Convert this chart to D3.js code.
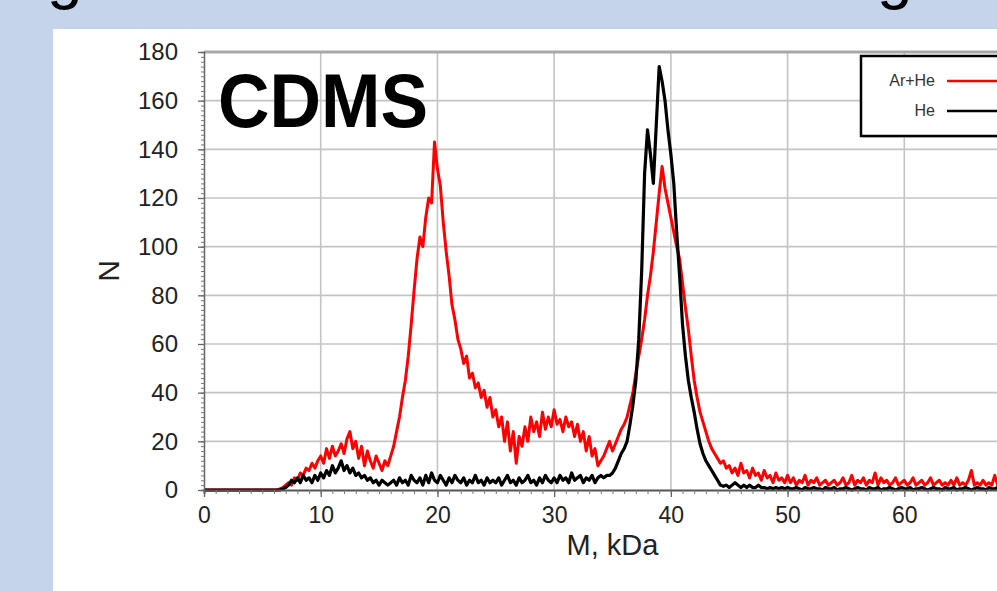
<!DOCTYPE html>
<html>
<head>
<meta charset="utf-8">
<script src="https://cdn.jsdelivr.net/npm/d3@7"></script>
<style>
  html, body { margin: 0; padding: 0; background: #c5d3eb; }
  svg { display: block; }
</style>
</head>
<body>
<svg id="chart" width="997" height="591"></svg>
<script>
// ---------------- DATA ----------------
const massStep = 0.25;          // kDa between samples
const massStart = 0;
const xTicks = [0, 10, 20, 30, 40, 50, 60];
const yTicks = [0, 20, 40, 60, 80, 100, 120, 140, 160, 180];
const seriesNames = ["Ar+He", "He"];
const xLabel = "M, kDa";
const yLabel = "N";
const panelTitle = "CDMS";

// Ar+He (red), one value per 0.25 kDa from 0 to 70
const arHe = [
  0,0,0,0,0,0,0,0,0,0,0,0,0,0,0,0,0,0,0,0,
  0,0,0,0,0,0,0.5,1,2,3,2,5,4,7,6,9,8,11,9,12,
  14,11,17,13,18,14,16,19,15,21,24,17,20,13,18,10,16,12,9,14,
  11,8,12,10,14,18,24,30,38,45,55,68,82,95,104,100,112,120,118,143,
  132,125,110,98,88,76,70,62,58,52,55,46,48,42,44,38,41,34,38,30,
  33,26,30,20,28,16,24,11,22,18,26,20,30,24,28,22,32,25,30,26,
  33,27,29,24,30,26,28,22,27,20,24,16,22,14,17,10,12,14,17,20,
  16,19,22,25,27,30,35,40,48,55,62,70,80,88,98,110,122,133,124,118,
  112,106,100,95,85,75,66,55,45,38,32,28,24,20,17,15,13,11,12,9,
  10,7,9,6,11,7,8,5,9,6,7,4,8,5,6,3,7,4,5,3,
  6,3,5,2,4,3,6,2,4,3,5,2,3,4,2,3,4,2,3,5,
  2,3,6,2,4,3,5,2,4,3,7,2,5,3,4,2,3,5,2,3,
  4,2,3,5,2,3,4,2,3,5,2,3,4,2,3,2,4,2,5,2,
  3,2,4,8,2,3,2,4,2,3,2,6,2,3,2,3,2,4,2,3,
  2
];

// He (black), one value per 0.25 kDa from 0 to 70
const he = [
  0,0,0,0,0,0,0,0,0,0,0,0,0,0,0,0,0,0,0,0,
  0,0,0,0,0,0,0,0.5,1,2,4,3,5,3,6,4,5,3,6,4,
  7,5,8,6,10,7,9,12,8,10,7,9,6,7,5,6,4,5,3,4,
  2,4,3,2,3,4,2,5,3,4,2,6,4,3,5,2,6,3,7,4,
  3,6,4,2,5,3,6,4,3,5,2,4,3,6,3,4,2,5,3,4,
  3,5,2,4,6,3,4,2,5,3,4,6,3,4,2,5,3,6,4,3,
  5,3,6,4,5,3,7,4,5,6,3,5,4,6,3,5,6,5,6,6,
  7,9,12,15,17,20,27,35,45,62,90,130,148,138,126,150,174,168,160,148,
  138,126,106,88,68,55,45,38,32,25,19,15,12,10,8,6,4,2,1.5,2,
  1,2,3,2,1,2,1,2,1,1,2,1,1,0.5,1,0.5,1,0.5,1,0.5,
  1,0.5,0.5,1,0.5,0,1,0.5,0.5,1,0.5,0.5,0,1,0.5,0.5,1,0,0.5,0.5,
  1,0.5,0,0.5,1,0.5,0.5,0,1,0.5,0.5,1,0,0.5,0.5,1,0.5,0,0.5,1,
  0.5,0.5,1,0,0.5,0.5,1,0.5,0,0.5,1,0.5,0.5,0,1,0.5,0.5,1,0,0.5,
  0.5,1,0.5,0,0.5,1,0.5,0.5,0,1,0.5,0.5,1,0,0.5,0.5,1,0.5,0,0.5,
  0.5
];

// ---------------- DRAW ----------------
const svg = d3.select("#chart");
const W = 997, H = 591;

// background: blue slide, white panel
svg.append("rect").attr("width", W).attr("height", H).attr("fill", "#c5d3eb");
svg.append("rect").attr("x", 53).attr("y", 29).attr("width", W - 53).attr("height", H - 29).attr("fill", "#ffffff");

// cut-off heading glyphs at the very top
svg.append("text").attr("x", 47).attr("y", -3)
  .attr("font-family", "Liberation Sans, Arial, sans-serif").attr("font-size", 64).attr("fill", "#000").text("g");
svg.append("text").attr("x", 877).attr("y", -3)
  .attr("font-family", "Liberation Sans, Arial, sans-serif").attr("font-size", 64).attr("fill", "#000").text("g");

const x = d3.scaleLinear().domain([0, 70]).range([204, 1021]);
const y = d3.scaleLinear().domain([0, 180]).range([490, 52]);

const font = "Liberation Sans, Arial, Helvetica, sans-serif";

// grid
const grid = svg.append("g");
grid.selectAll("line.h").data(yTicks.filter(d => d > 0 && d < 180)).enter().append("line")
  .attr("x1", x(0)).attr("x2", x(70)).attr("y1", d => y(d)).attr("y2", d => y(d))
  .attr("stroke", "#c4c4c4").attr("stroke-width", 1.6);
grid.selectAll("line.v").data(xTicks.filter(d => d > 0)).enter().append("line")
  .attr("x1", d => x(d)).attr("x2", d => x(d)).attr("y1", y(0)).attr("y2", y(180))
  .attr("stroke", "#c4c4c4").attr("stroke-width", 1.6);
// top frame line
svg.append("line").attr("x1", x(0)).attr("x2", x(70)).attr("y1", y(180)).attr("y2", y(180))
  .attr("stroke", "#a8a8a8").attr("stroke-width", 3);

// lines
const masses = arHe.map((_, i) => massStart + i * massStep);
const line = d3.line().x((d, i) => x(masses[i])).y(d => y(d));

svg.append("clipPath").attr("id", "clip").append("rect")
  .attr("x", x(0)).attr("y", y(180)).attr("width", x(70) - x(0)).attr("height", y(0) - y(180) + 3);

svg.append("path").datum(arHe).attr("d", line)
  .attr("fill", "none").attr("stroke", "#ff0000").attr("stroke-width", 3)
  .attr("stroke-linejoin", "round").attr("clip-path", "url(#clip)");
svg.append("path").datum(he).attr("d", line)
  .attr("fill", "none").attr("stroke", "#000000").attr("stroke-width", 3.2)
  .attr("stroke-linejoin", "round").attr("clip-path", "url(#clip)");

// y axis: minor ticks
const yMinor = svg.append("g").attr("transform", `translate(${x(0)},0)`)
  .call(d3.axisLeft(y).tickValues(d3.range(0, 181, 2)).tickSize(3).tickFormat(""));
yMinor.select(".domain").attr("stroke", "#666").attr("stroke-width", 1.5);
yMinor.selectAll(".tick line").attr("stroke", "#777").attr("stroke-width", 1);

const yAxis = svg.append("g").attr("transform", `translate(${x(0)},0)`)
  .call(d3.axisLeft(y).tickValues(yTicks).tickSize(6).tickPadding(20));
yAxis.select(".domain").remove();
yAxis.selectAll(".tick line").attr("stroke", "#666").attr("stroke-width", 1.3);
yAxis.selectAll(".tick text").attr("font-family", font).attr("font-size", 24).attr("fill", "#222");

// x axis
const xMinor = svg.append("g").attr("transform", `translate(0,${y(0)})`)
  .call(d3.axisBottom(x).tickValues(d3.range(0, 71, 1)).tickSize(4).tickFormat(""));
xMinor.select(".domain").attr("stroke", "#555").attr("stroke-width", 2);
xMinor.selectAll(".tick line").attr("stroke", "#777").attr("stroke-width", 1);

const xAxis = svg.append("g").attr("transform", `translate(0,${y(0)})`)
  .call(d3.axisBottom(x).tickValues(xTicks).tickSize(7).tickPadding(10));
xAxis.select(".domain").remove();
xAxis.selectAll(".tick line").attr("stroke", "#666").attr("stroke-width", 1.3);
xAxis.selectAll(".tick text").attr("font-family", font).attr("font-size", 23).attr("fill", "#222");

// axis titles
svg.append("text").attr("x", (x(0) + x(70)) / 2).attr("y", 555)
  .attr("text-anchor", "middle").attr("font-family", font).attr("font-size", 29).attr("fill", "#222")
  .text(xLabel);
svg.append("text").attr("transform", `translate(119,${(y(0) + y(180)) / 2}) rotate(-90)`)
  .attr("text-anchor", "middle").attr("font-family", font).attr("font-size", 30).attr("fill", "#222")
  .text(yLabel);

// CDMS label
svg.append("text").attr("x", 218).attr("y", 127)
  .attr("font-family", font).attr("font-weight", "bold").attr("font-size", 76)
  .attr("textLength", 210).attr("lengthAdjust", "spacingAndGlyphs").attr("fill", "#000")
  .text(panelTitle);

// legend
const lg = svg.append("g");
lg.append("rect").attr("x", 863).attr("y", 58).attr("width", 160).attr("height", 80)
  .attr("fill", "#d8d8d8");
lg.append("rect").attr("x", 861).attr("y", 56).attr("width", 160).attr("height", 80)
  .attr("fill", "#fff").attr("stroke", "#000").attr("stroke-width", 2.5);
const legendColors = ["#ff0000", "#000000"];
const legendY = [81, 111];
seriesNames.forEach((name, i) => {
  lg.append("text").attr("x", 935).attr("y", legendY[i] + 5).attr("text-anchor", "end")
    .attr("font-family", font).attr("font-size", 16).attr("fill", "#333").text(name);
  lg.append("line").attr("x1", 947).attr("x2", 1010).attr("y1", legendY[i]).attr("y2", legendY[i])
    .attr("stroke", legendColors[i]).attr("stroke-width", 2.5);
});
</script>
</body>
</html>
